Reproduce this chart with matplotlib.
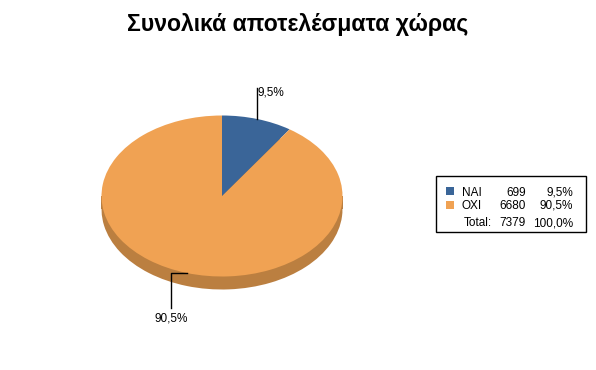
import matplotlib.pyplot as plt
import matplotlib.patches as mpatches
import numpy as np

plt.rcParams['font.family'] = ['Liberation Sans', 'DejaVu Sans']

# Data
labels = ['NAI', 'OXI']
counts = [699, 6680]
colors = ['#3A6598', '#F0A253']
side_colors = ['#2C4C72', '#BB7F40']
title = 'Συνολικά αποτελέσματα χώρας'

W, H = 596, 370
CX, CY = 222, 196      # pie centre (pixels)
RX, RY = 120.5, 80.5   # ellipse radii (pixels)
DEPTH = 13             # pie thickness (pixels)
FS = 8.5


def pct(v):
    return f"{v:.1f}%".replace('.', ',')


def px2x(px):
    return (px - CX) / RX


def py2y(py):
    return (CY - py) / RY


def fx(px):
    return px / W


def fy(py):
    return 1 - py / H


fig = plt.figure(figsize=(W / 100, H / 100), dpi=100)
ax = fig.add_axes([0, 0, 1, 1])

total = sum(counts)
shares = [c / total * 100 for c in counts]

# side of the pie (shifted copy + band)
d = DEPTH / RY
ax.pie(counts, colors=side_colors, startangle=90, counterclock=False,
       center=(0, -d), radius=1, wedgeprops=dict(linewidth=0))
ax.add_patch(mpatches.Rectangle((-1, -d), 2, d, facecolor=side_colors[1],
                                edgecolor='none', zorder=1))
wedges, _ = ax.pie(counts, colors=colors, startangle=90, counterclock=False,
                   center=(0, 0), radius=1, wedgeprops=dict(linewidth=0))
for w in wedges:
    w.set_zorder(3)

ax.set_aspect('auto')
ax.set_xlim(px2x(0), px2x(W))
ax.set_ylim(py2y(H), py2y(0))
ax.axis('off')

# leader lines and labels
mids = [np.deg2rad((w.theta1 + w.theta2) / 2) for w in wedges]

# NAI: straight up
x0, y0 = np.cos(mids[0]), np.sin(mids[0])
ax.plot([x0, x0], [y0, py2y(88)], color='black', lw=1, zorder=4)
ax.text(x0, py2y(95.3), pct(shares[0]), ha='left', va='baseline',
        fontsize=FS, zorder=5)

# OXI: left then down
x1, y1 = np.cos(mids[1]), np.sin(mids[1])
xl = px2x(171)
ax.plot([x1, xl, xl], [y1, y1, py2y(308)], color='black', lw=1, zorder=4)
ax.text(xl, py2y(321.7), pct(shares[1]), ha='center', va='baseline',
        fontsize=FS, zorder=5)

# title
fig.text(fx(297.5), fy(31.5), title, ha='center', va='baseline',
         fontsize=16.6, fontweight='bold')

# legend box
fig.patches.append(mpatches.Rectangle((fx(436), fy(232)), (586 - 436) / W,
                                      (232 - 176) / H, transform=fig.transFigure,
                                      facecolor='white', edgecolor='black', lw=1))
rows = [195.5, 209]
for i, (lab, c) in enumerate(zip(labels, counts)):
    top = rows[i] - 8.5
    fig.patches.append(mpatches.Rectangle((fx(446), fy(top + 8)), 8 / W, 8 / H,
                                          transform=fig.transFigure,
                                          facecolor=colors[i], edgecolor='none'))
    fig.text(fx(462), fy(rows[i]), lab, ha='left', va='baseline', fontsize=FS)
    fig.text(fx(526), fy(rows[i]), str(c), ha='right', va='baseline', fontsize=FS)
    fig.text(fx(573), fy(rows[i]), pct(shares[i]), ha='right', va='baseline', fontsize=FS)
fig.text(fx(463.5), fy(226.5), 'Total:', ha='left', va='baseline', fontsize=FS)
fig.text(fx(526), fy(226.5), str(total), ha='right', va='baseline', fontsize=FS)
fig.text(fx(573), fy(226.5), pct(100), ha='right', va='baseline', fontsize=FS)

fig.savefig('out.png', dpi=100)
